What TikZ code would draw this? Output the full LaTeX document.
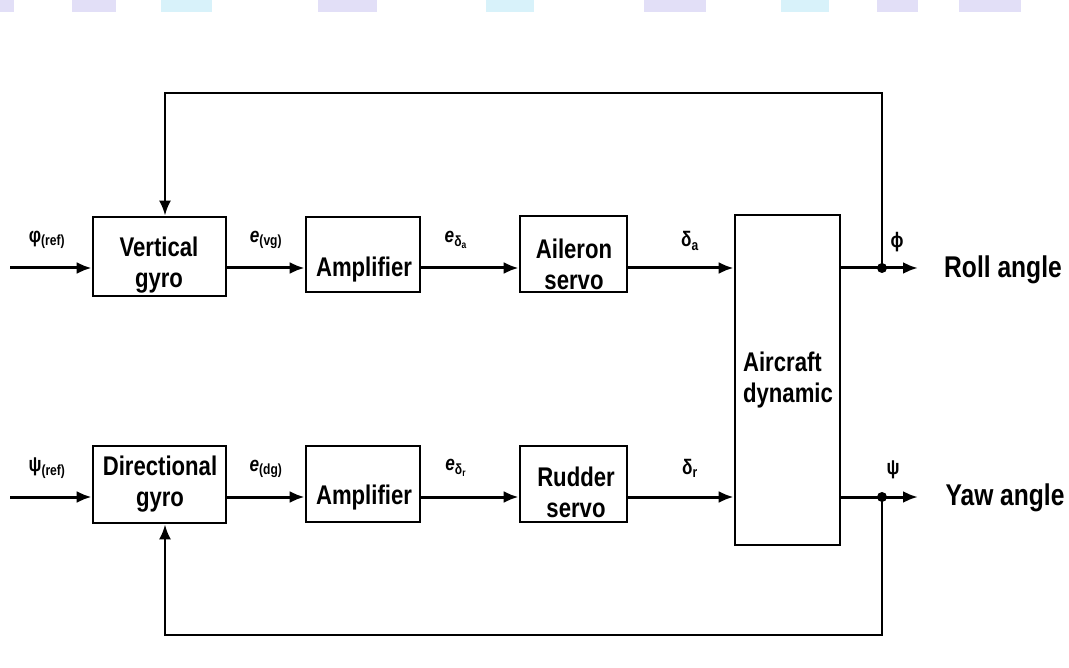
\documentclass[tikz,border=0pt]{standalone}
\usepackage{fontspec}
\setmainfont{Liberation Sans}[FakeStretch=0.82]
\usetikzlibrary{arrows.meta}
\definecolor{wmA}{HTML}{E2DFF7}
\definecolor{wmB}{HTML}{D8F2FA}
\begin{document}
\begin{tikzpicture}[x=1pt,y=-1pt,
  blk/.style={draw,line width=2.6pt,inner sep=0pt},
  txt/.style={font=\fontsize{27}{31}\selectfont\bfseries,align=center,inner sep=0pt},
  big/.style={font=\fontsize{30}{33}\selectfont\bfseries,inner sep=0pt},
  lab/.style={font=\fontsize{21}{24}\selectfont\bfseries,inner sep=0pt},
  arr/.style={line width=3pt,-{Latex[length=15pt,width=12pt]}},
  dot/.style={circle,fill,inner sep=0pt,minimum size=10pt}]
\useasboundingbox (0,0) rectangle (1069,668);
% faint watermark band
\foreach \a/\b/\c in {0/14/wmA,72/116/wmA,161/212/wmB,318/377/wmA,486/534/wmB,644/706/wmA,781/829/wmB,877/918/wmA,959/1021/wmA}{
  \fill[fill=\c] (\a,0) rectangle (\b,12);}
% blocks
\node[blk,minimum width=133pt,minimum height=79pt] (vg) at (159.5,256.5) {};
\node[blk,minimum width=114pt,minimum height=75pt] (amp1) at (363,254.5) {};
\node[blk,minimum width=107pt,minimum height=76pt] (ail) at (573.5,254) {};
\node[blk,minimum width=105pt,minimum height=330pt] (ac) at (787.5,380) {};
\node[blk,minimum width=133pt,minimum height=77pt] (dg) at (159.5,484.5) {};
\node[blk,minimum width=114pt,minimum height=76pt] (amp2) at (363,484) {};
\node[blk,minimum width=107pt,minimum height=76pt] (rud) at (573.5,484) {};
% block texts
\node[txt] (tvg) at (159,265) {Vertical\\gyro};
\node[txt] (tamp1) at (364,270) {Amplifier};
\node[txt] (tail) at (574,264) {Aileron\\servo};
\node[txt,align=left] (tac) at (788,380) {Aircraft\\dynamic};
\node[txt] (tdg) at (160,484) {Directional\\gyro};
\node[txt] (tamp2) at (364,498) {Amplifier};
\node[txt] (trud) at (576,492) {Rudder\\servo};
\node[big] (troll) at (1003,270) {Roll angle};
\node[big] (tyaw) at (1005,498) {Yaw angle};
% row coordinates
\coordinate (r1) at (0,268);
\coordinate (r2) at (0,497);
\coordinate (in1) at (10,268);
\coordinate (in2) at (10,497);
\coordinate (o1) at (918,268);
\coordinate (o2) at (918,497);
\node[dot] (d1) at (882,268) {};
\node[dot] (d2) at (882,497) {};
\coordinate (t1) at (882,93);
\coordinate (t2) at (165,93);
\coordinate (b1) at (882,635);
\coordinate (b2) at (165,635);
% forward paths
\draw[arr] (in1) -- (vg.west |- in1);
\draw[arr] (vg.east |- r1) -- (amp1.west |- r1);
\draw[arr] (amp1.east |- r1) -- (ail.west |- r1);
\draw[arr] (ail.east |- r1) -- (ac.west |- r1);
\draw[arr] (ac.east |- r1) -- (o1);
\draw[arr] (in2) -- (dg.west |- in2);
\draw[arr] (dg.east |- r2) -- (amp2.west |- r2);
\draw[arr] (amp2.east |- r2) -- (rud.west |- r2);
\draw[arr] (rud.east |- r2) -- (ac.west |- r2);
\draw[arr] (ac.east |- r2) -- (o2);
% feedback
\draw[arr,line width=2.8pt] (d1.center) -- (t1) -- (t2) -- (vg.north -| t2);
\draw[arr,line width=2.8pt] (d2.center) -- (b1) -- (b2) -- (dg.south -| b2);
% labels
\node[lab] (l1) at (47,240) {φ\textsubscript{(ref)}};
\node[lab] (l2) at (266,240) {\textit{e}\textsubscript{(vg)}};
\node[lab] (l3) at (456,240) {\textit{e}\textsubscript{δ\textsubscript{a}}};
\node[lab] (l4) at (690,241) {δ\textsubscript{a}};
\node[lab] (l5) at (897,242) {ϕ};
\node[lab] (l6) at (47,468) {ψ\textsubscript{(ref)}};
\node[lab] (l7) at (266,469) {\textit{e}\textsubscript{(dg)}};
\node[lab] (l8) at (456,468) {\textit{e}\textsubscript{δ\textsubscript{r}}};
\node[lab] (l9) at (690,468) {δ\textsubscript{r}};
\node[lab] (l10) at (893,470) {ψ};
\end{tikzpicture}
\end{document}
